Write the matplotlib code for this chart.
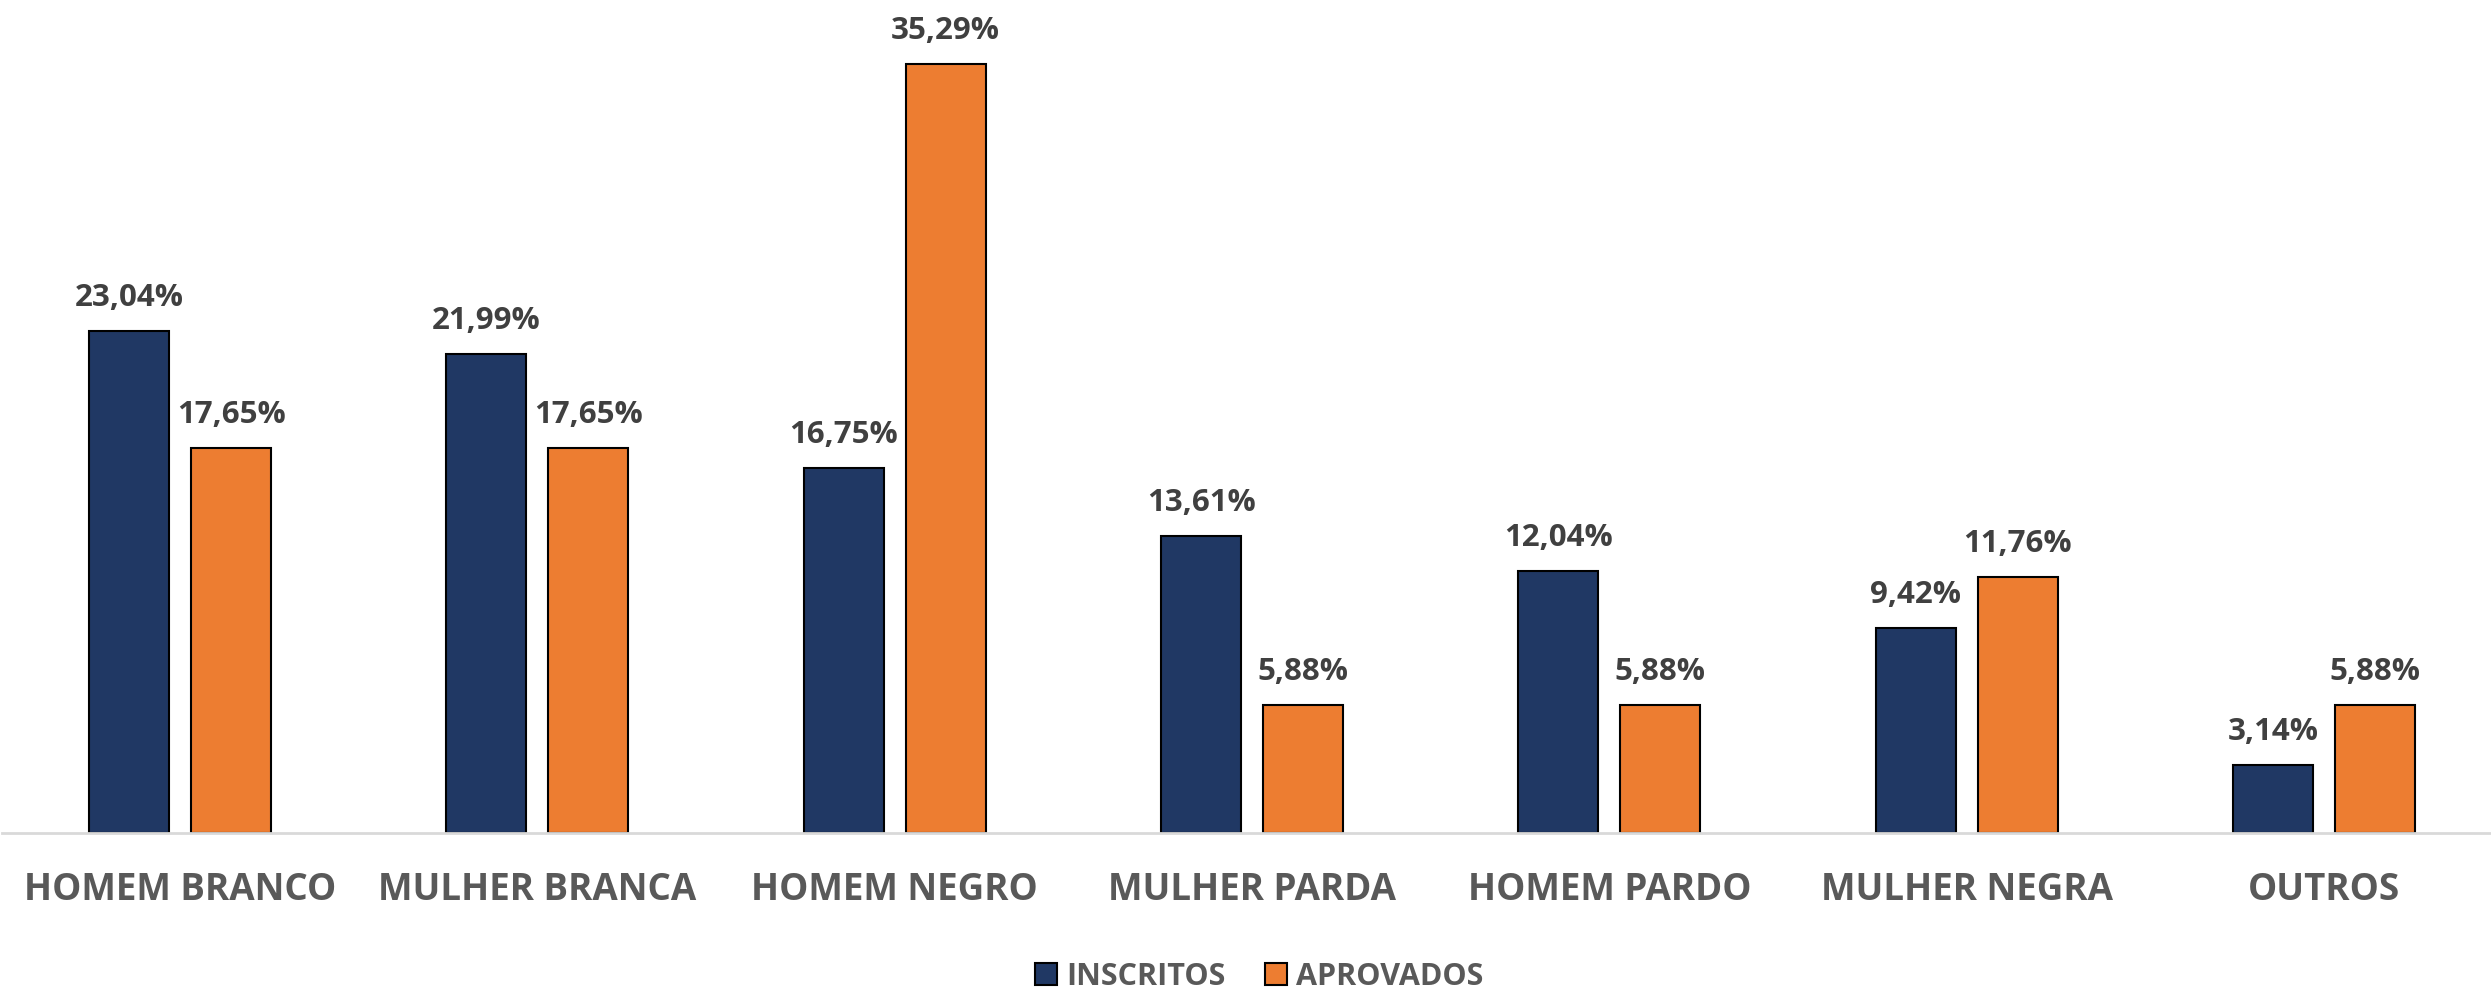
import numpy as np
import matplotlib.pyplot as plt

categorias = ["HOMEM BRANCO", "MULHER BRANCA", "HOMEM NEGRO", "MULHER PARDA",
              "HOMEM PARDO", "MULHER NEGRA", "OUTROS"]
inscritos = [23.04, 21.99, 16.75, 13.61, 12.04, 9.42, 3.14]
aprovados = [17.65, 17.65, 35.29, 5.88, 5.88, 11.76, 5.88]

azul = "#203864"
laranja = "#ED7D31"
cinza_rotulo = "#404040"
cinza_eixo = "#595959"

plt.rcParams['font.family'] = ['Open Sans', 'DejaVu Sans']

W, H = 2491, 990
fig = plt.figure(figsize=(W / 100, H / 100), dpi=100)
ax = fig.add_axes([1.5 / W, 157 / H, 7 * 357.3 / W, 828 / H])

x = np.arange(len(categorias))
larg = 0.224
desl = 0.1427

b1 = ax.bar(x - desl, inscritos, larg, color=azul, edgecolor="black", linewidth=1.5,
            label="INSCRITOS")
b2 = ax.bar(x + desl, aprovados, larg, color=laranja, edgecolor="black", linewidth=1.5,
            label="APROVADOS")

for barras, vals in [(b1, inscritos), (b2, aprovados)]:
    for b, v in zip(barras, vals):
        ax.annotate(f"{v:.2f}%".replace(".", ","),
                    (b.get_x() + b.get_width() / 2, b.get_height()),
                    xytext=(0, 18), textcoords="offset pixels",
                    ha="center", va="bottom", fontsize=22.5, fontweight="bold",
                    color=cinza_rotulo)

ax.set_xlim(-0.5, 6.5)
ax.set_ylim(0, 38)
ax.set_yticks([])
ax.set_xticks(x, categorias, fontsize=26.5, fontweight="bold", color=cinza_eixo)
ax.tick_params(axis="x", length=0, pad=27)
for s in ["top", "right", "left"]:
    ax.spines[s].set_visible(False)
ax.spines["bottom"].set_color("#D9D9D9")
ax.spines["bottom"].set_linewidth(2)

leg = fig.legend(handles=[b1, b2], loc="center", bbox_to_anchor=(1259 / W, 1 - 977 / H),
                 ncol=2, frameon=False, fontsize=22, handlelength=0.72, handleheight=0.72,
                 handletextpad=0.3, columnspacing=1.3)
for t in leg.get_texts():
    t.set_color(cinza_eixo)
    t.set_fontweight("bold")

fig.savefig("out.png", dpi=100)
